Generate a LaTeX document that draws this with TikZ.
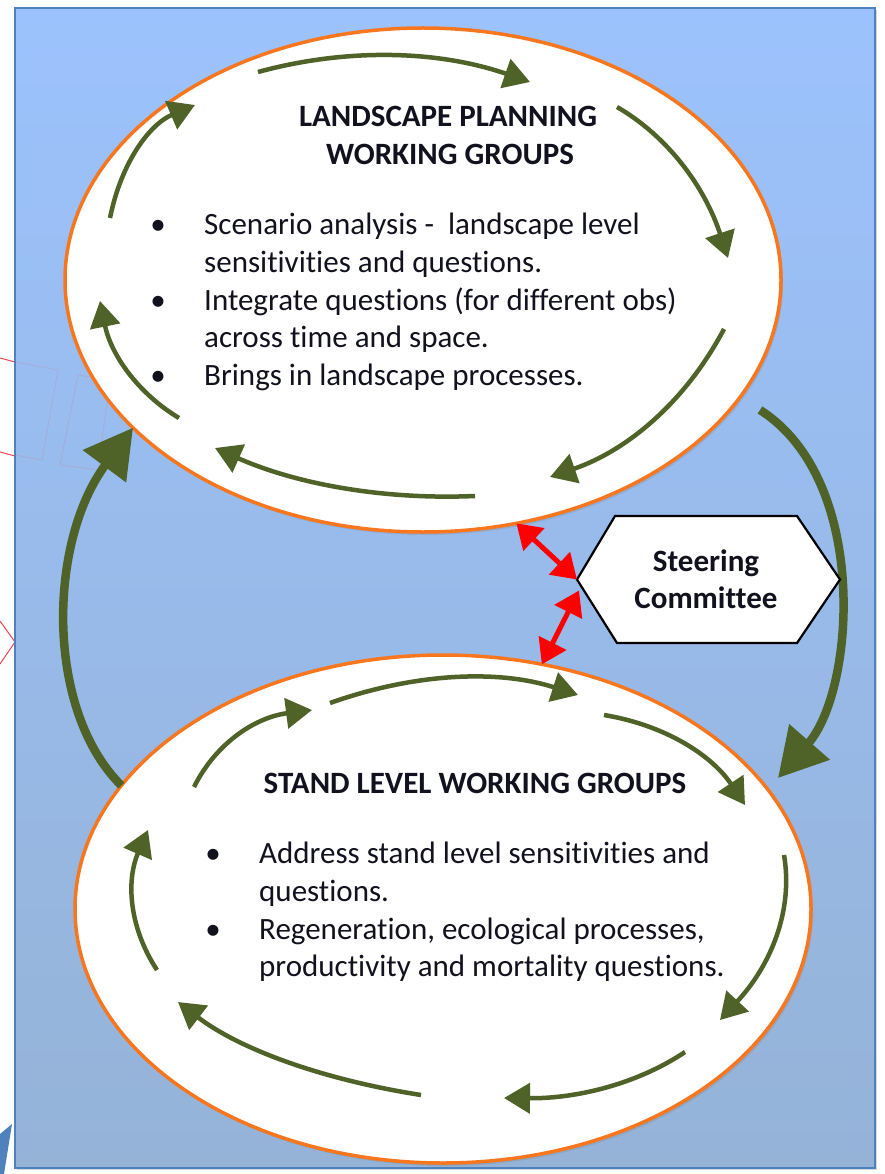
\documentclass[tikz,border=0pt]{standalone}
\usepackage{fontspec}
\setmainfont{Carlito}[Ligatures=CommonOff]
\usetikzlibrary{arrows.meta,shapes.geometric,shadows,calc}
\definecolor{bgtop}{RGB}{156,194,253}
\definecolor{bgbot}{RGB}{149,179,215}
\definecolor{frameblue}{RGB}{79,129,189}
\definecolor{arrowgreen}{RGB}{79,98,40}
\definecolor{orangeline}{RGB}{247,118,30}
\definecolor{txt}{RGB}{18,18,30}
\definecolor{pinkline}{RGB}{236,70,80}
\begin{document}
\begin{tikzpicture}[x=1pt,y=-1pt,
  wg/.style={ellipse, draw=orangeline, line width=3.5pt, fill=white, inner sep=0pt, outer sep=0pt,
    drop shadow={opacity=0.25, shadow xshift=2pt, shadow yshift=-3pt}},
  cyc/.style={draw=arrowgreen, line width=4.5pt, -{Triangle[length=26pt,width=30pt]}},
  bigarrow/.style={draw=arrowgreen, line width=8.5pt, -{Triangle[length=48pt,width=52pt]}},
  redarrow/.style={draw=red, line width=5pt, {Triangle[length=24pt,width=30pt]}-{Triangle[length=24pt,width=30pt]}},
  ttl/.style={font=\bfseries\fontsize{31}{37.5}\selectfont, text=txt, inner sep=0pt, anchor=base},
  body/.style={font=\fontsize{31}{37.5}\selectfont, text=txt, inner sep=0pt, anchor=base west},
  bul/.style={font=\fontsize{31}{37.5}\selectfont, text=txt, inner sep=0pt, anchor=base},
  hexline/.style={draw=black, line width=2.2pt, fill=white}
]
\useasboundingbox (0,0) rectangle (885,1174);
\fill[white] (0,0) rectangle (885,1174);

% cropped fragments at the left border
\draw[pinkline, line width=1pt] (0,358) -- (15,362);
\draw[pinkline, line width=1pt] (0,452) -- (15,456);
\draw[pinkline, line width=1pt] (0,621) -- (15,642) -- (0,664);
\fill[frameblue] (12,1124) -- (0,1134) -- (0,1174) -- (4,1174) -- cycle;

% background panel
\path[top color=bgtop, bottom color=bgbot, draw=frameblue, line width=1.5pt,
  drop shadow={opacity=0.3, shadow xshift=2pt, shadow yshift=-2pt}] (15,8) rectangle (875,1168);
\draw[pinkline, opacity=0.12, line width=1pt] (15,362) -- (58,370) -- (42,460) -- (15,455);
\draw[pinkline, opacity=0.12, line width=1pt] (78,375) -- (110,380) -- (98,470) -- (60,465) -- cycle;

% working group ellipses
\node[wg, minimum width=716pt, minimum height=504pt] (top) at (423,280) {};
\node[wg, minimum width=736pt, minimum height=508pt] (bot) at (443,909) {};

% big green connectors
\coordinate (rstart) at (760,410);
\coordinate (rend) at (778,778);
\draw[bigarrow] (bot.159) .. controls (45,710) and (48,542) .. (top.207);
\draw[bigarrow] (rstart) .. controls (870,480) and (855,690) .. (rend);

% cycle arrows, landscape group
\draw[cyc] (258,72) .. controls (348.7,47.3) and (439.3,50.7) .. (530,82);
\draw[cyc] (617,107) .. controls (667.7,136.3) and (704.7,186.7) .. (728,258);
\draw[cyc] (724,329) .. controls (686,401) and (628,450.3) .. (550,477);
\draw[cyc] (475,496) .. controls (383,500) and (296.3,484) .. (215,448);
\draw[cyc] (179,418) .. controls (137,392.7) and (110.7,353.7) .. (100,301);
\draw[cyc] (110,218) .. controls (121.3,162) and (149.7,124.3) .. (195,105);

% cycle arrows, stand level group
\draw[cyc] (194,787) .. controls (216,743) and (255.3,717.3) .. (312,710);
\draw[cyc] (330,703) .. controls (416.7,672.3) and (499.3,669.7) .. (578,695);
\draw[cyc] (604,715) .. controls (664.7,725) and (711.7,755) .. (745,805);
\draw[cyc] (784,855) .. controls (793.3,909) and (772,964) .. (720,1020);
\draw[cyc] (685,1052) .. controls (638.3,1083.3) and (578,1098.7) .. (504,1098);
\draw[cyc] (421,1095) .. controls (319,1079) and (238,1048) .. (178,1002);
\draw[cyc] (157,970) .. controls (129,927.3) and (126,880.7) .. (148,830);

% steering committee
\node[minimum width=263pt, minimum height=127pt, inner sep=0pt, outer sep=0pt] (steer) at (708.5,579.5) {};
\draw[hexline] (steer.west) -- ($(steer.north west)+(38,0)$) -- ($(steer.north east)+(-43,0)$)
  -- (steer.east) -- ($(steer.south east)+(-43,0)$) -- ($(steer.south west)+(40,0)$) -- cycle;
\node[ttl] (s1) at (706,571) {Steering};
\node[ttl] (s2) at (706,608) {Committee};

\coordinate (sw2) at ($(steer.west)+(2,11)$);
\draw[redarrow] (top.-69) -- (steer.west);
\draw[redarrow] (sw2) -- (bot.68);

% texts, landscape group
\node[ttl] (t1) at (448,127) {LANDSCAPE PLANNING};
\node[ttl] (t2) at (450,164.5) {WORKING GROUPS};
\node[bul] (tb1) at (158,235) {\textbullet};
\node[bul] (tb2) at (158,310) {\textbullet};
\node[bul] (tb3) at (158,385) {\textbullet};
\node[body] (tl1) at (204,235) {Scenario analysis -\ \ landscape level};
\node[body] (tl2) at (204,272.5) {sensitivities and questions.};
\node[body] (tl3) at (204,310) {Integrate questions (for different obs)};
\node[body] (tl4) at (204,347.5) {across time and space.};
\node[body] (tl5) at (204,385) {Brings in landscape processes.};

% texts, stand level group
\node[ttl] (b0) at (475,793) {STAND LEVEL WORKING GROUPS};
\node[bul] (bb1) at (213,863) {\textbullet};
\node[bul] (bb2) at (213,939) {\textbullet};
\node[body] (bl1) at (259,863) {Address stand level sensitivities and};
\node[body] (bl2) at (259,901) {questions.};
\node[body] (bl3) at (259,939) {Regeneration, ecological processes,};
\node[body] (bl4) at (259,976) {productivity and mortality questions.};
\end{tikzpicture}
\end{document}
